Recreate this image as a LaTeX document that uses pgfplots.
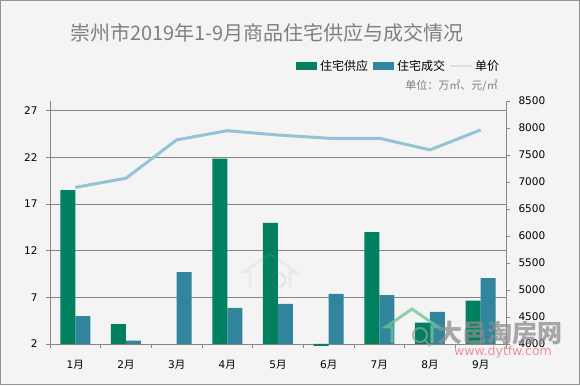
\documentclass[border=0pt]{standalone}
\usepackage{pgfplots}
\pgfplotsset{compat=1.18}
\usepackage{fontspec}
\setmainfont{DejaVu Sans}
\newfontfamily\cjk{Noto Sans CJK SC}
\definecolor{supply}{HTML}{00805F}
\definecolor{deal}{HTML}{31859C}
\definecolor{price}{HTML}{93C4D6}
\definecolor{bg}{HTML}{F4F4F4}
\definecolor{gridc}{HTML}{868686}
\definecolor{titlec}{HTML}{7F7F7F}
\definecolor{wmred}{HTML}{E8727A}
\definecolor{wmgreen}{HTML}{6CC497}
\begin{document}
\begin{tikzpicture}[x=1pt,y=1pt]
\fill[bg] (0,0) rectangle (580,385);
\draw[gray!85,line width=1.2pt] (0.6,0.6) rectangle (579.4,384.4);
\begin{axis}[
  at={(50pt,41pt)}, anchor=south west,
  scale only axis, width=456pt, height=243pt,
  xmin=-0.5, xmax=8.5, ymin=0, ymax=26.04,
  y filter/.expression={y-2},
  clip=false,
  ybar=0pt, bar width=15pt,
  axis x line*=bottom, axis y line*=left,
  axis line style={gridc, line width=0.8pt},
  ytick={0,5,10,15,20,25},
  yticklabels={2,7,12,17,22,27},
  ymajorgrids, grid style={gridc, line width=0.8pt},
  xtick={0,...,8},
  xticklabels={{1{\cjk 月}},{2{\cjk 月}},{3{\cjk 月}},{4{\cjk 月}},{5{\cjk 月}},{6{\cjk 月}},{7{\cjk 月}},{8{\cjk 月}},{9{\cjk 月}}},
  minor xtick={-0.5,0.5,...,8.5},
  major x tick style={draw=none},
  minor x tick style={gridc, line width=0.8pt},
  tick align=outside,
  minor tick length=4pt,
  major tick length=4pt,
  ytick style={gridc, line width=0.8pt},
  tick label style={font=\fontsize{10.5}{12}\selectfont, black},
  xticklabel style={yshift=-9pt},
  yticklabel style={xshift=-5pt},
]
\addplot[fill=supply, draw=none] coordinates {(0,18.5)(1,4.14)(3,21.86)(4,14.97)(5,1.8)(6,14.0)(7,4.28)(8,6.64)};
\addplot[fill=deal, draw=none] coordinates {(0,5.0)(1,2.35)(2,9.71)(3,5.86)(4,6.29)(5,7.36)(6,7.25)(7,5.43)(8,9.07)};
\end{axis}
\begin{axis}[
  at={(50pt,41pt)}, anchor=south west,
  scale only axis, width=456pt, height=243pt,
  xmin=-0.5, xmax=8.5, ymin=4000, ymax=8500,
  axis y line*=right, axis x line=none,
  axis line style={gridc, line width=0.8pt},
  ytick={4000,4500,...,8500},
  tick align=outside, major tick length=4pt,
  ytick style={gridc, line width=0.8pt},
  tick label style={font=\fontsize{10.5}{12}\selectfont, black},
  yticklabel style={xshift=5pt},
  /pgf/number format/.cd, 1000 sep={}, assume math mode=true,
]
\addplot[price, line width=3pt, line join=round] coordinates {(0,6900)(1,7070)(2,7780)(3,7950)(4,7870)(5,7810)(6,7810)(7,7595)(8,7965)};
\end{axis}
% title
\node[titlec, font=\cjk\fontsize{20}{24}\selectfont] at (267,352) {崇州市2019年1-9月商品住宅供应与成交情况};
% legend
\fill[supply] (296,315) rectangle (317,323);
\node[anchor=west, inner sep=0pt, font=\cjk\fontsize{12}{14}\selectfont] at (320,319) {住宅供应};
\fill[deal] (373,315) rectangle (394,323);
\node[anchor=west, inner sep=0pt, font=\cjk\fontsize{12}{14}\selectfont] at (397,319) {住宅成交};
\draw[color={rgb,255:red,214;green,228;blue,238}, line width=1.5pt] (450,319) -- (472,319);
\node[anchor=west, inner sep=0pt, font=\cjk\fontsize{12}{14}\selectfont] at (475,319) {单价};
\node[anchor=east, inner sep=0pt, titlec, font=\cjk\fontsize{11}{13}\selectfont] at (498,299) {单位：万㎡、元/㎡};
% watermark
\begin{scope}[opacity=0.75]
\draw[wmgreen, line width=3pt] (392,42) -- (392,58) -- (386,58) -- (412,76) -- (438,58) -- (432,58) -- (432,42);
\draw[gray!80, line width=2pt] (420,50) circle (7);
\draw[gray!80, line width=2pt] (425,45) -- (430,39);
\node[gray!90, font=\cjk\bfseries\fontsize{25}{28}\selectfont] at (500,52) {大邑淘房网};
\node[wmred, font=\fontsize{12.5}{14}\selectfont] at (503,33) {www.dytfw.com};
\end{scope}
\begin{scope}[opacity=0.12]
\draw[wmgreen, line width=3pt] (250,97) -- (250,113) -- (244,113) -- (270,131) -- (296,113) -- (290,113) -- (290,97);
\draw[gray, line width=2pt] (278,105) circle (7);
\end{scope}
\pgfresetboundingbox
\useasboundingbox (0,0) rectangle (580,385);
\end{tikzpicture}
\end{document}
